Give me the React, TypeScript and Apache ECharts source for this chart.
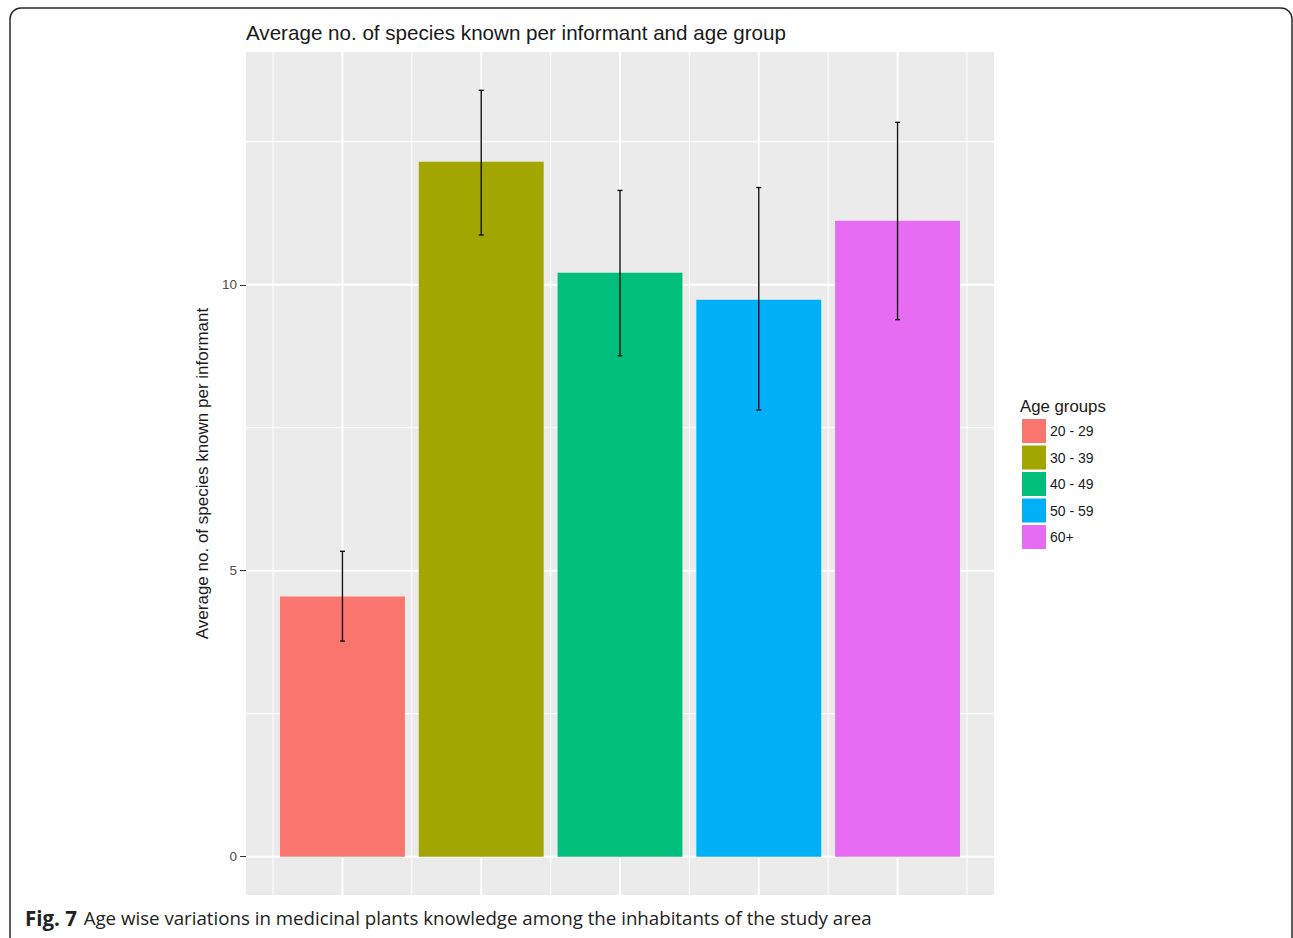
import React, { useEffect, useRef } from "react";
import * as echarts from "echarts";

const categories = ["20 - 29", "30 - 39", "40 - 49", "50 - 59", "60+"];
const means = [4.55, 12.15, 10.21, 9.74, 11.12];
const lowers = [3.77, 10.87, 8.76, 7.81, 9.39];
const uppers = [5.34, 13.4, 11.65, 11.7, 12.84];
const colors = ["#F8766D", "#A3A500", "#00BF7D", "#00B0F6", "#E76BF3"];
const yMajor = [0, 5, 10];
const yMinor = [2.5, 7.5, 12.5];
const xMajor = [1, 2, 3, 4, 5];
const xMinor = [0.5, 1.5, 2.5, 3.5, 4.5, 5.5];

const FONT = "'Liberation Sans', Arial, sans-serif";
const XMIN = 0.305;
const XMAX = 5.695;
const YMIN = -0.67;
const YMAX = 14.07;

export default function App() {
  const ref = useRef<HTMLDivElement>(null);
  useEffect(() => {
    if (!ref.current) return;
    const chart = echarts.init(ref.current, null, { renderer: "svg" });

    // grid lines: [orientation (0 = horizontal at y value, 1 = vertical at x value), value, width]
    const gridLineData = [
      ...yMinor.map((v) => [0, v, 1]),
      ...xMinor.map((v) => [1, v, 1]),
      ...yMajor.map((v) => [0, v, 2]),
      ...xMajor.map((v) => [1, v, 2]),
    ];

    const gridSeries: any = {
      type: "custom",
      name: "__grid",
      silent: true,
      z: 1,
      data: gridLineData,
      renderItem: (params: any, api: any) => {
        const o = api.value(0);
        const v = api.value(1);
        const w = api.value(2);
        let a, b;
        if (o === 0) {
          a = api.coord([XMIN, v]);
          b = api.coord([XMAX, v]);
        } else {
          a = api.coord([v, YMIN]);
          b = api.coord([v, YMAX]);
        }
        return {
          type: "line",
          shape: { x1: a[0], y1: a[1], x2: b[0], y2: b[1] },
          style: { stroke: "#FFFFFF", lineWidth: w },
        };
      },
    };

    const barSeries = categories.map((c, i) => ({
      type: "custom",
      name: c,
      z: 2,
      itemStyle: { color: colors[i] },
      data: [[i + 1, means[i]]],
      renderItem: (params: any, api: any) => {
        const x = api.value(0);
        const y = api.value(1);
        const p1 = api.coord([x - 0.45, y]);
        const p2 = api.coord([x + 0.45, 0]);
        return {
          type: "rect",
          shape: { x: p1[0], y: p1[1], width: p2[0] - p1[0], height: p2[1] - p1[1] },
          style: { fill: colors[i] },
        };
      },
    }));

    const errSeries = {
      type: "custom",
      name: "__err",
      z: 3,
      silent: true,
      data: categories.map((c, i) => [i + 1, lowers[i], uppers[i]]),
      renderItem: (params: any, api: any) => {
        const x = api.value(0);
        const lo = api.coord([x, api.value(1)]);
        const hi = api.coord([x, api.value(2)]);
        const cap = 2.5;
        const st = { stroke: "#111111", lineWidth: 1.4 };
        return {
          type: "group",
          children: [
            { type: "line", shape: { x1: lo[0], y1: lo[1], x2: hi[0], y2: hi[1] }, style: st },
            { type: "line", shape: { x1: lo[0] - cap, y1: lo[1], x2: lo[0] + cap, y2: lo[1] }, style: st },
            { type: "line", shape: { x1: hi[0] - cap, y1: hi[1], x2: hi[0] + cap, y2: hi[1] }, style: st },
          ],
        };
      },
    };

    chart.setOption({
      animation: false,
      backgroundColor: "#FFFFFF",
      title: {
        text: "Average no. of species known per informant and age group",
        left: 246,
        top: 22,
        padding: 0,
        textStyle: { fontFamily: FONT, fontSize: 20.6, fontWeight: "normal", color: "#1A1A1A" },
      },
      grid: {
        left: 246,
        top: 52,
        width: 748,
        height: 843,
        show: true,
        backgroundColor: "#EBEBEB",
        borderWidth: 0,
      },
      xAxis: {
        type: "value",
        min: XMIN,
        max: XMAX,
        axisLine: { show: false },
        axisTick: { show: false },
        axisLabel: { show: false },
        splitLine: { show: false },
      },
      yAxis: {
        type: "value",
        min: YMIN,
        max: YMAX,
        name: "Average no. of species known per informant",
        nameLocation: "middle",
        nameGap: 33,
        nameRotate: 90,
        nameTextStyle: { fontFamily: FONT, fontSize: 17, color: "#1A1A1A" },
        axisLine: { show: false },
        axisTick: { show: true, length: 6, lineStyle: { color: "#333333", width: 1 }, customValues: yMajor },
        axisLabel: {
          fontFamily: FONT,
          fontSize: 13.5,
          color: "#4D4D4D",
          margin: 9,
          customValues: yMajor,
        },
        splitLine: { show: false },
      },
      legend: {
        data: categories,
        orient: "vertical",
        left: 1022,
        top: 419,
        padding: 0,
        itemWidth: 24,
        itemHeight: 24,
        itemGap: 2.5,
        icon: "rect",
        selectedMode: false,
        textStyle: { fontFamily: FONT, fontSize: 14, color: "#1A1A1A", padding: [0, 0, 0, -1] },
      },
      graphic: [
        {
          type: "text",
          left: 1020,
          top: 398,
          style: { text: "Age groups", font: `16.8px ${FONT}`, fill: "#1A1A1A" },
        },
        {
          type: "rect",
          shape: { x: 10, y: 8, width: 1282, height: 960, r: 11 },
          style: { fill: "none", stroke: "#2A2A2A", lineWidth: 1.5 },
          silent: true,
        },
        {
          type: "text",
          left: 25,
          top: 907,
          style: {
            rich: {
              b: { fontFamily: "'Open Sans', sans-serif", fontWeight: "bold", fontSize: 20.5, fill: "#222222" },
              n: { fontFamily: "'Open Sans', sans-serif", fontSize: 18.7, fill: "#222222" },
            },
            text: "{b|Fig. 7}  {n|Age wise variations in medicinal plants knowledge among the inhabitants of the study area}",
          },
        },
      ],
      series: [gridSeries, ...barSeries, errSeries],
    });
    return () => chart.dispose();
  }, []);
  return (
    <div
      ref={ref}
      style={{ position: "fixed", left: 0, top: 0, width: 1293, height: 938 }}
    />
  );
}
